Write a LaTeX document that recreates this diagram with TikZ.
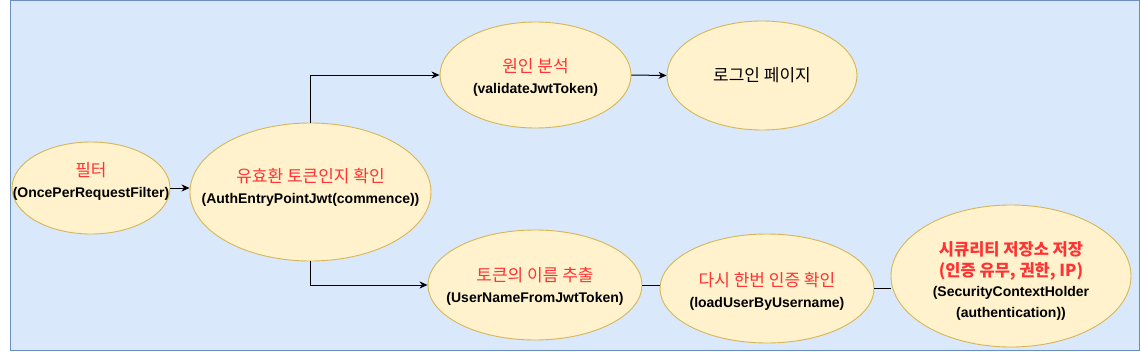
\documentclass[tikz,border=0pt]{standalone}
\usepackage{fontspec}
\setmainfont{Liberation Sans}
\newfontfamily\kr{Noto Sans CJK KR}
\usetikzlibrary{shapes.geometric,arrows.meta}
\definecolor{bgfill}{HTML}{DAE8FC}
\definecolor{bgline}{HTML}{6C8EBF}
\definecolor{elfill}{HTML}{FFF2CC}
\definecolor{elline}{HTML}{D6B656}
\definecolor{redtxt}{HTML}{FF3333}
\newcommand{\redln}[1]{{\kr\fontsize{17}{20}\selectfont\color{redtxt}#1}}
\newcommand{\redbd}[1]{{\kr\bfseries\fontsize{16.5}{20}\selectfont\color{redtxt}#1}}
\newcommand{\subln}[1]{{\bfseries\fontsize{14}{20}\selectfont #1}}
\begin{document}
\begin{tikzpicture}[x=1pt,y=-1pt,
  el/.style={ellipse, draw=elline, fill=elfill, line width=0.9pt, inner sep=0pt},
  lbl/.style={align=center, inner sep=0pt, font=\fontsize{14}{21}\selectfont},
  conn/.style={draw=black, line width=1pt},
  arr/.style={conn, -{Stealth[length=8pt,width=7pt,inset=2.5pt]}}]
\useasboundingbox (0,0) rectangle (1141,351);
\fill[white] (0,0) rectangle (1141,351);
\draw[fill=bgfill, draw=bgline, line width=1pt] (10.5,0.5) rectangle (1139.5,350.5);

\node[el, minimum width=158pt, minimum height=92pt] (filter) at (91,188) {};
\node[el, minimum width=241pt, minimum height=138pt] (eff) at (310.5,192) {};
\node[el, minimum width=191pt, minimum height=106pt] (cause) at (535.5,75) {};
\node[el, minimum width=190pt, minimum height=109pt, font=\kr\fontsize{17}{20}\selectfont] (login) at (762,75.5) {로그인 페이지};
\node[el, minimum width=214pt, minimum height=110pt] (tok) at (535,285) {};
\node[el, minimum width=214pt, minimum height=109pt] (dasi) at (767,288.5) {};
\node[el, minimum width=240pt, minimum height=142pt] (sec) at (1011,276) {};

\node[lbl] (filterT) at (91,181.5) {\redln{필터}\\\subln{(OncePerRequestFilter)}};
\node[lbl] (effT) at (310.5,187.5) {\redln{유효환 토큰인지 확인}\\\subln{(AuthEntryPointJwt(commence))}};
\node[lbl] (causeT) at (535.5,77) {\redln{원인 분석}\\\subln{(validateJwtToken)}};
\node[lbl] (tokT) at (535,286.5) {\redln{토큰의 이름 추출}\\\subln{(UserNameFromJwtToken)}};
\node[lbl] (dasiT) at (767,291) {\redln{다시 한번 인증 확인}\\\subln{(loadUserByUsername)}};
\node[lbl, font=\fontsize{14}{20.5}\selectfont] (secT) at (1011,281) {\redbd{시큐리티 저장소 저장}\\\redbd{(인증 유무, 권한, IP)}\\\subln{(SecurityContextHolder}\\\subln{(authentication))}};

\draw[arr] (filter.east) -- (filter.east -| eff.west);
\draw[arr] (eff.north) |- (cause.west);
\draw[arr] (cause.east) -- (login.west);
\draw[arr] (eff.south) |- (tok.west);
\draw[conn] (tok.east) -- (tok.east -| dasi.west);
\draw[conn] (dasi.east) -- (dasi.east -| sec.west);
\end{tikzpicture}
\end{document}
